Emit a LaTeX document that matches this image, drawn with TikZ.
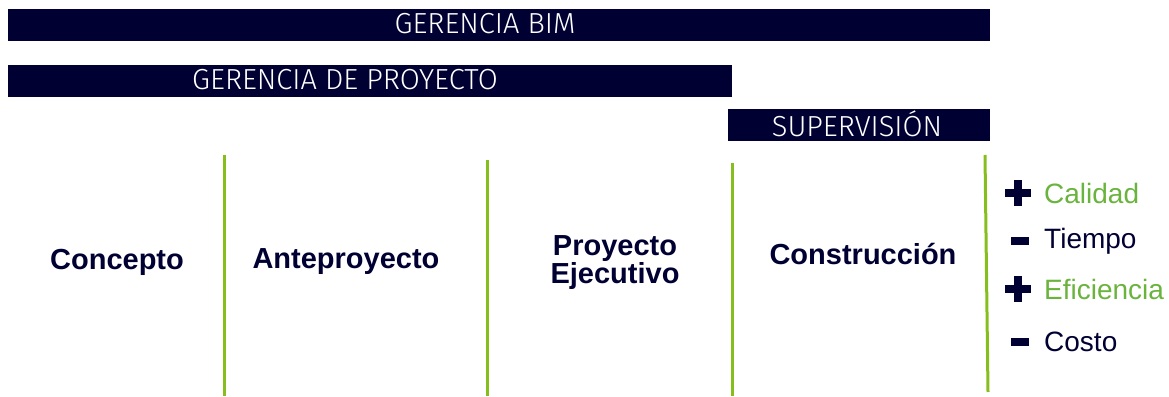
\documentclass[tikz,border=0pt]{standalone}
\usepackage{fontspec}
\setmainfont{Liberation Sans}
\newfontfamily\barfont{Fira Sans Light}
\usetikzlibrary{positioning}
\definecolor{navy}{RGB}{0,0,51}
\definecolor{lime}{RGB}{134,190,30}
\definecolor{leaf}{RGB}{106,180,62}

\begin{document}
\begin{tikzpicture}[
  x=1pt,
  y=-1pt,
  bar/.style={fill=navy, text=white, inner sep=0pt, font=\barfont\fontsize{29}{29}\selectfont},
  phase/.style={text=navy, align=center, font=\bfseries\fontsize{29}{26}\selectfont},
  sep/.style={draw=lime, line width=3pt},
  item/.style={anchor=west, inner sep=0pt, font=\fontsize{28}{28}\selectfont},
  gain/.style={item, text=leaf},
  loss/.style={item, text=navy}
]
\useasboundingbox (0,0) rectangle (1169,396);

% Barras de gestión (arriba)
\fill[navy] (8,9) rectangle (990,41);
\fill[navy] (8,65) rectangle (732,97);
\fill[navy] (728,109) rectangle (990,141);
\node[bar] (bim) at (485,24) {GERENCIA BIM};
\node[bar] (gp)  at (345,80) {GERENCIA DE PROYECTO};
\node[bar] (sup) at (857,124) {SUPERVISIÓN};

% Separadores verdes entre fases
\coordinate (s1a) at (224,155); \coordinate (s1b) at (224,396);
\coordinate (s2a) at (487,160); \coordinate (s2b) at (487,396);
\coordinate (s3a) at (732,163); \coordinate (s3b) at (732,396);
\coordinate (s4a) at (985,155); \coordinate (s4b) at (988,392);
\draw[sep] (s1a) -- (s1b);
\draw[sep] (s2a) -- (s2b);
\draw[sep] (s3a) -- (s3b);
\draw[sep] (s4a) -- (s4b);

% Fases
\node[phase] (concepto) at (117,262) {Concepto};
\node[phase] (ante)     at (346,262) {Anteproyecto};
\node[phase] (ejec)     at (615,263) {Proyecto\\Ejecutivo};
\node[phase] (constr)   at (863,254) {Construcción};

% Resultados (derecha)
\node[gain] (calidad) at (1044,193) {Calidad};
\node[loss] (tiempo)  at (1044,241) {Tiempo};
\node[gain] (efic)    at (1044,289) {Eficiencia};
\node[loss] (costo)   at (1044,342) {Costo};

% Signos + / -
\foreach \n in {calidad, efic} {
  \fill[navy] ([xshift=-39]\n.west) ++(0,-4) rectangle ++(26,8);
  \fill[navy] ([xshift=-30]\n.west) ++(0,-13) rectangle ++(8,26);
}
\foreach \n in {tiempo, costo} {
  \fill[navy] ([xshift=-33]\n.west) ++(0,-4) rectangle ++(18,8);
}

\end{tikzpicture}
\end{document}
